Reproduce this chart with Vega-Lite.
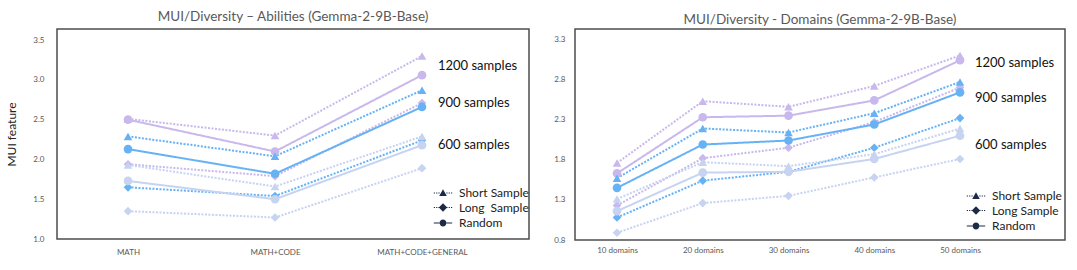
{
  "$schema": "https://vega.github.io/schema/vega-lite/v6.json",
  "background": "white",
  "padding": {"left": 5, "top": 8, "right": 5, "bottom": 0},
  "config": {
    "font": "Lato",
    "view": {"stroke": "#4d4d4d", "strokeWidth": 1.5},
    "axis": {"grid": false, "ticks": false, "domain": false, "labelFontSize": 8, "labelColor": "#595959", "labelFont": "Lato"},
    "title": {"fontSize": 13.5, "fontWeight": "normal", "color": "#595959", "anchor": "middle", "font": "Lato"},
    "legend": {"labelFont": "Lato"},
    "concat": {"spacing": 23}
  },
  "datasets": {
    "abilities": [
      {"category": "MATH", "size": "1200 samples", "type": "Short Sample", "mui": 2.51},
      {"category": "MATH", "size": "1200 samples", "type": "Long Sample", "mui": 1.94},
      {"category": "MATH", "size": "1200 samples", "type": "Random", "mui": 2.50},
      {"category": "MATH", "size": "900 samples", "type": "Short Sample", "mui": 2.29},
      {"category": "MATH", "size": "900 samples", "type": "Long Sample", "mui": 1.65},
      {"category": "MATH", "size": "900 samples", "type": "Random", "mui": 2.13},
      {"category": "MATH", "size": "600 samples", "type": "Short Sample", "mui": 1.93},
      {"category": "MATH", "size": "600 samples", "type": "Long Sample", "mui": 1.35},
      {"category": "MATH", "size": "600 samples", "type": "Random", "mui": 1.73},
      {"category": "MATH+CODE", "size": "1200 samples", "type": "Short Sample", "mui": 2.30},
      {"category": "MATH+CODE", "size": "1200 samples", "type": "Long Sample", "mui": 1.79},
      {"category": "MATH+CODE", "size": "1200 samples", "type": "Random", "mui": 2.10},
      {"category": "MATH+CODE", "size": "900 samples", "type": "Short Sample", "mui": 2.04},
      {"category": "MATH+CODE", "size": "900 samples", "type": "Long Sample", "mui": 1.54},
      {"category": "MATH+CODE", "size": "900 samples", "type": "Random", "mui": 1.82},
      {"category": "MATH+CODE", "size": "600 samples", "type": "Short Sample", "mui": 1.66},
      {"category": "MATH+CODE", "size": "600 samples", "type": "Long Sample", "mui": 1.27},
      {"category": "MATH+CODE", "size": "600 samples", "type": "Random", "mui": 1.50},
      {"category": "MATH+CODE+GENERAL", "size": "1200 samples", "type": "Short Sample", "mui": 3.30},
      {"category": "MATH+CODE+GENERAL", "size": "1200 samples", "type": "Long Sample", "mui": 2.71},
      {"category": "MATH+CODE+GENERAL", "size": "1200 samples", "type": "Random", "mui": 3.06},
      {"category": "MATH+CODE+GENERAL", "size": "900 samples", "type": "Short Sample", "mui": 2.87},
      {"category": "MATH+CODE+GENERAL", "size": "900 samples", "type": "Long Sample", "mui": 2.24},
      {"category": "MATH+CODE+GENERAL", "size": "900 samples", "type": "Random", "mui": 2.66},
      {"category": "MATH+CODE+GENERAL", "size": "600 samples", "type": "Short Sample", "mui": 2.29},
      {"category": "MATH+CODE+GENERAL", "size": "600 samples", "type": "Long Sample", "mui": 1.89},
      {"category": "MATH+CODE+GENERAL", "size": "600 samples", "type": "Random", "mui": 2.18}
    ],
    "abilityLabels": [
      {"category": "MATH+CODE+GENERAL", "label": "1200 samples", "mui": 3.17},
      {"category": "MATH+CODE+GENERAL", "label": "900 samples", "mui": 2.71},
      {"category": "MATH+CODE+GENERAL", "label": "600 samples", "mui": 2.18}
    ],
    "domains": [
      {"category": "10 domains", "size": "1200 samples", "type": "Short Sample", "mui": 1.76},
      {"category": "10 domains", "size": "1200 samples", "type": "Long Sample", "mui": 1.23},
      {"category": "10 domains", "size": "1200 samples", "type": "Random", "mui": 1.63},
      {"category": "10 domains", "size": "900 samples", "type": "Short Sample", "mui": 1.57},
      {"category": "10 domains", "size": "900 samples", "type": "Long Sample", "mui": 1.08},
      {"category": "10 domains", "size": "900 samples", "type": "Random", "mui": 1.45},
      {"category": "10 domains", "size": "600 samples", "type": "Short Sample", "mui": 1.31},
      {"category": "10 domains", "size": "600 samples", "type": "Long Sample", "mui": 0.89},
      {"category": "10 domains", "size": "600 samples", "type": "Random", "mui": 1.16},
      {"category": "20 domains", "size": "1200 samples", "type": "Short Sample", "mui": 2.53},
      {"category": "20 domains", "size": "1200 samples", "type": "Long Sample", "mui": 1.82},
      {"category": "20 domains", "size": "1200 samples", "type": "Random", "mui": 2.33},
      {"category": "20 domains", "size": "900 samples", "type": "Short Sample", "mui": 2.19},
      {"category": "20 domains", "size": "900 samples", "type": "Long Sample", "mui": 1.54},
      {"category": "20 domains", "size": "900 samples", "type": "Random", "mui": 1.99},
      {"category": "20 domains", "size": "600 samples", "type": "Short Sample", "mui": 1.77},
      {"category": "20 domains", "size": "600 samples", "type": "Long Sample", "mui": 1.26},
      {"category": "20 domains", "size": "600 samples", "type": "Random", "mui": 1.64},
      {"category": "30 domains", "size": "1200 samples", "type": "Short Sample", "mui": 2.46},
      {"category": "30 domains", "size": "1200 samples", "type": "Long Sample", "mui": 1.95},
      {"category": "30 domains", "size": "1200 samples", "type": "Random", "mui": 2.35},
      {"category": "30 domains", "size": "900 samples", "type": "Short Sample", "mui": 2.14},
      {"category": "30 domains", "size": "900 samples", "type": "Long Sample", "mui": 1.65},
      {"category": "30 domains", "size": "900 samples", "type": "Random", "mui": 2.04},
      {"category": "30 domains", "size": "600 samples", "type": "Short Sample", "mui": 1.72},
      {"category": "30 domains", "size": "600 samples", "type": "Long Sample", "mui": 1.35},
      {"category": "30 domains", "size": "600 samples", "type": "Random", "mui": 1.65},
      {"category": "40 domains", "size": "1200 samples", "type": "Short Sample", "mui": 2.72},
      {"category": "40 domains", "size": "1200 samples", "type": "Long Sample", "mui": 2.27},
      {"category": "40 domains", "size": "1200 samples", "type": "Random", "mui": 2.54},
      {"category": "40 domains", "size": "900 samples", "type": "Short Sample", "mui": 2.38},
      {"category": "40 domains", "size": "900 samples", "type": "Long Sample", "mui": 1.95},
      {"category": "40 domains", "size": "900 samples", "type": "Random", "mui": 2.24},
      {"category": "40 domains", "size": "600 samples", "type": "Short Sample", "mui": 1.87},
      {"category": "40 domains", "size": "600 samples", "type": "Long Sample", "mui": 1.58},
      {"category": "40 domains", "size": "600 samples", "type": "Random", "mui": 1.81},
      {"category": "50 domains", "size": "1200 samples", "type": "Short Sample", "mui": 3.10},
      {"category": "50 domains", "size": "1200 samples", "type": "Long Sample", "mui": 2.70},
      {"category": "50 domains", "size": "1200 samples", "type": "Random", "mui": 3.04},
      {"category": "50 domains", "size": "900 samples", "type": "Short Sample", "mui": 2.77},
      {"category": "50 domains", "size": "900 samples", "type": "Long Sample", "mui": 2.32},
      {"category": "50 domains", "size": "900 samples", "type": "Random", "mui": 2.64},
      {"category": "50 domains", "size": "600 samples", "type": "Short Sample", "mui": 2.19},
      {"category": "50 domains", "size": "600 samples", "type": "Long Sample", "mui": 1.81},
      {"category": "50 domains", "size": "600 samples", "type": "Random", "mui": 2.10}
    ],
    "domainLabels": [
      {"category": "50 domains", "label": "1200 samples", "mui": 3.01},
      {"category": "50 domains", "label": "900 samples", "mui": 2.575},
      {"category": "50 domains", "label": "600 samples", "mui": 1.99}
    ]
  },
  "hconcat": [
    {
      "width": 472,
      "height": 210,
      "title": {"text": "MUI/Diversity – Abilities (Gemma-2-9B-Base)", "offset": 6},
      "encoding": {
        "x": {"field": "category", "type": "ordinal", "scale": {"type": "point", "domain": ["MATH", "MATH+CODE", "MATH+CODE+GENERAL"], "range": [71, 365], "padding": 0}, "axis": {"title": null, "labelAngle": 0, "labelPadding": 9}},
        "y": {"field": "mui", "type": "quantitative", "scale": {"domain": [1, 3.64], "nice": false, "zero": false}, "axis": {"title": "MUI feature", "values": [1, 1.5, 2, 2.5, 3, 3.5], "format": ".1f", "labelPadding": 13, "titleFontSize": 12, "titleFontWeight": "normal", "titleColor": "#222222", "titleFont": "Lato", "titlePadding": 14}}
      },
      "layer": [
        {
          "data": {"name": "abilities"},
          "mark": {"type": "line", "strokeWidth": 2},
          "encoding": {
            "color": {"field": "size", "type": "nominal", "scale": {"domain": ["600 samples", "900 samples", "1200 samples"], "range": ["#c6d3f1", "#66b2f5", "#c8b8ec"]}, "legend": null},
            "strokeDash": {"field": "type", "type": "nominal", "scale": {"domain": ["Short Sample", "Long Sample", "Random"], "range": [[2, 1.5], [2, 1.5], [1, 0]]}, "legend": null}
          }
        },
        {
          "data": {"name": "abilities"},
          "mark": {"type": "point", "filled": true, "opacity": 1, "size": 75},
          "encoding": {
            "color": {"field": "size", "type": "nominal", "legend": null},
            "shape": {"field": "type", "type": "nominal", "scale": {"domain": ["Short Sample", "Long Sample", "Random"], "range": ["triangle-up", "diamond", "circle"]}, "legend": null}
          }
        },
        {
          "data": {"name": "abilities"},
          "mark": {"type": "point", "filled": true, "opacity": 0, "size": 64, "color": "#1c2a48"},
          "encoding": {
            "shape": {"field": "type", "type": "nominal",
              "scale": {"domain": ["Short Sample", "Long Sample", "Random"], "range": [
                "M-2.3,-0.15h0.3v0.3h-0.3ZM-1.72,-0.15h0.3v0.3h-0.3ZM-1.14,-0.15h0.3v0.3h-0.3ZM0.84,-0.15h0.3v0.3h-0.3ZM1.42,-0.15h0.3v0.3h-0.3ZM2.0,-0.15h0.3v0.3h-0.3ZM0,-0.95L0.95,0.75H-0.95Z",
                "M-2.3,-0.15h0.3v0.3h-0.3ZM-1.72,-0.15h0.3v0.3h-0.3ZM-1.14,-0.15h0.3v0.3h-0.3ZM0.84,-0.15h0.3v0.3h-0.3ZM1.42,-0.15h0.3v0.3h-0.3ZM2.0,-0.15h0.3v0.3h-0.3ZM0,-1.05L1.05,0L0,1.05L-1.05,0Z",
                "M-2.3,-0.15H-0.8V0.15H-2.3ZM0.8,-0.15H2.3V0.15H0.8ZM-0.85,0A0.85,0.85,0,1,0,0.85,0A0.85,0.85,0,1,0,-0.85,0Z"
              ]},
              "legend": {"title": null, "orient": "none", "legendX": 380, "legendY": 158, "symbolSize": 64, "symbolOpacity": 1, "labelFontSize": 12, "labelColor": "#222222", "labelOffset": 10, "rowPadding": 0.5, "padding": 0,
                "labelExpr": "datum.label == 'Long Sample' ? 'Long\u00a0 Sample' : datum.label",
                "encode": {"symbols": {"fill": {"value": "#1c2a48"}, "stroke": {"value": "#1c2a48"}, "strokeWidth": {"value": 0.4}, "opacity": {"value": 1}}}
              }
            }
          }
        },
        {
          "data": {"name": "abilityLabels"},
          "mark": {"type": "text", "align": "left", "baseline": "middle", "dx": 16, "fontSize": 13, "color": "#111111", "font": "Lato"},
          "encoding": {"text": {"field": "label"}}
        }
      ],
      "resolve": {"scale": {"shape": "independent"}, "legend": {"shape": "independent"}}
    },
    {
      "width": 490,
      "height": 211,
      "title": {"text": "MUI/Diversity - Domains (Gemma-2-9B-Base)", "offset": 3},
      "encoding": {
        "x": {"field": "category", "type": "ordinal", "scale": {"type": "point", "domain": ["10 domains", "20 domains", "30 domains", "40 domains", "50 domains"], "range": [42, 385], "padding": 0}, "axis": {"title": null, "labelAngle": 0, "labelPadding": 6}},
        "y": {"field": "mui", "type": "quantitative", "scale": {"domain": [0.8, 3.43], "nice": false, "zero": false}, "axis": {"title": null, "values": [0.8, 1.3, 1.8, 2.3, 2.8, 3.3], "format": ".1f", "labelPadding": 10}}
      },
      "layer": [
        {
          "data": {"name": "domains"},
          "mark": {"type": "line", "strokeWidth": 2},
          "encoding": {
            "color": {"field": "size", "type": "nominal", "scale": {"domain": ["600 samples", "900 samples", "1200 samples"], "range": ["#c6d3f1", "#66b2f5", "#c8b8ec"]}, "legend": null},
            "strokeDash": {"field": "type", "type": "nominal", "scale": {"domain": ["Short Sample", "Long Sample", "Random"], "range": [[2, 1.5], [2, 1.5], [1, 0]]}, "legend": null}
          }
        },
        {
          "data": {"name": "domains"},
          "mark": {"type": "point", "filled": true, "opacity": 1, "size": 75},
          "encoding": {
            "color": {"field": "size", "type": "nominal", "legend": null},
            "shape": {"field": "type", "type": "nominal", "scale": {"domain": ["Short Sample", "Long Sample", "Random"], "range": ["triangle-up", "diamond", "circle"]}, "legend": null}
          }
        },
        {
          "data": {"name": "domains"},
          "mark": {"type": "point", "filled": true, "opacity": 0, "size": 64, "color": "#1c2a48"},
          "encoding": {
            "shape": {"field": "type", "type": "nominal",
              "scale": {"domain": ["Short Sample", "Long Sample", "Random"], "range": [
                "M-2.3,-0.15h0.3v0.3h-0.3ZM-1.72,-0.15h0.3v0.3h-0.3ZM-1.14,-0.15h0.3v0.3h-0.3ZM0.84,-0.15h0.3v0.3h-0.3ZM1.42,-0.15h0.3v0.3h-0.3ZM2.0,-0.15h0.3v0.3h-0.3ZM0,-0.95L0.95,0.75H-0.95Z",
                "M-2.3,-0.15h0.3v0.3h-0.3ZM-1.72,-0.15h0.3v0.3h-0.3ZM-1.14,-0.15h0.3v0.3h-0.3ZM0.84,-0.15h0.3v0.3h-0.3ZM1.42,-0.15h0.3v0.3h-0.3ZM2.0,-0.15h0.3v0.3h-0.3ZM0,-1.05L1.05,0L0,1.05L-1.05,0Z",
                "M-2.3,-0.15H-0.8V0.15H-2.3ZM0.8,-0.15H2.3V0.15H0.8ZM-0.85,0A0.85,0.85,0,1,0,0.85,0A0.85,0.85,0,1,0,-0.85,0Z"
              ]},
              "legend": {"title": null, "orient": "none", "legendX": 395, "legendY": 161, "symbolSize": 64, "symbolOpacity": 1, "labelFontSize": 12, "labelColor": "#222222", "labelOffset": 10, "rowPadding": 0.5, "padding": 0,
                "encode": {"symbols": {"fill": {"value": "#1c2a48"}, "stroke": {"value": "#1c2a48"}, "strokeWidth": {"value": 0.4}, "opacity": {"value": 1}}}
              }
            }
          }
        },
        {
          "data": {"name": "domainLabels"},
          "mark": {"type": "text", "align": "left", "baseline": "middle", "dx": 15, "fontSize": 13, "color": "#111111", "font": "Lato"},
          "encoding": {"text": {"field": "label"}}
        }
      ],
      "resolve": {"scale": {"shape": "independent"}, "legend": {"shape": "independent"}}
    }
  ],
  "resolve": {"legend": {"shape": "independent"}, "scale": {"shape": "independent", "color": "independent"}}
}
